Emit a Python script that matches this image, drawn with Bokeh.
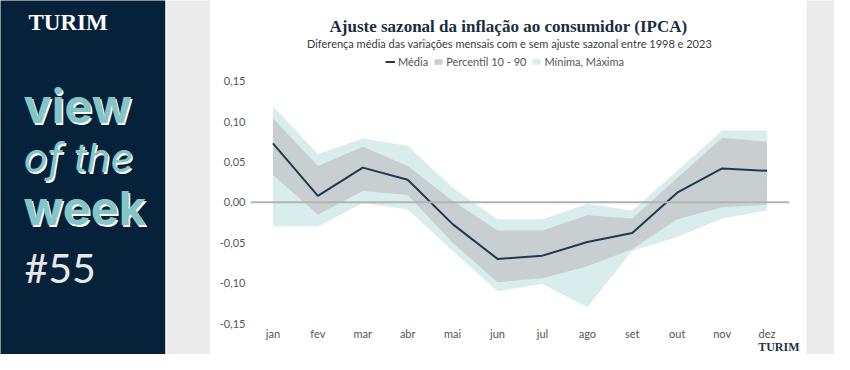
from bokeh.plotting import figure
from bokeh.layouts import row, column
from bokeh.models import (FactorRange, Range1d, FixedTicker, CustomJSTickFormatter, Span,
                          Legend, LegendItem, Label, Title)
from bokeh.embed import file_html
from bokeh.resources import INLINE

# ---------------- data ----------------
months = ["jan", "fev", "mar", "abr", "mai", "jun", "jul", "ago", "set", "out", "nov", "dez"]
media = [0.073, 0.008, 0.043, 0.028, -0.027, -0.070, -0.066, -0.049, -0.038, 0.012, 0.042, 0.039]
p90 = [0.104, 0.045, 0.069, 0.045, 0.002, -0.035, -0.035, -0.016, -0.020, 0.030, 0.080, 0.075]
p10 = [0.034, -0.015, 0.014, 0.009, -0.050, -0.099, -0.094, -0.079, -0.058, -0.021, -0.006, -0.003]
maximo = [0.119, 0.060, 0.079, 0.070, 0.018, -0.021, -0.021, -0.002, -0.010, 0.039, 0.089, 0.089]
minimo = [-0.030, -0.030, -0.001, -0.009, -0.060, -0.110, -0.101, -0.130, -0.060, -0.043, -0.020, -0.010]
y_ticks = [-0.15, -0.10, -0.05, 0.0, 0.05, 0.10, 0.15]

title_text = "Ajuste sazonal da inflação ao consumidor (IPCA)"
subtitle_text = "Diferença média das variações mensais com e sem ajuste sazonal entre 1998 e 2023"
legend_labels = ["Média", "Percentil 10 - 90", "Mínima, Máxima"]
brand = "TURIM"
panel_words = ["view", "of the", "week"]
issue = "#55"

H = 354
NAVY = "#06223a"
GRAY = "#ebebeb"
TEAL = "#86c5c6"
LINE = "#1f3a4d"
BAND_DARK = "#c8cfd1"
BAND_LIGHT = "#d9eded"


def blank(w, h, color):
    s = figure(width=w, height=h, toolbar_location=None, output_backend="svg", min_border=0,
               x_axis_location=None, y_axis_location=None, frame_align=False,
               x_range=Range1d(0, w), y_range=Range1d(h, 0))
    s.grid.visible = False
    s.outline_line_color = None
    s.background_fill_color = color
    s.border_fill_color = color
    return s


# ---------------- left panel ----------------
panel = blank(165, H, NAVY)
panel.add_layout(Label(x=28, y=22, text=brand, text_font="Liberation Serif",
                       text_font_style="bold", text_font_size="23px", text_color="white",
                       text_baseline="alphabetic"))
word_base = [105, 157, 207]
word_style = ["bold", "italic", "bold"]
word_size = ["47px", "40px", "47px"]
for w, yb, st, fs in zip(panel_words, word_base, word_style, word_size):
    panel.add_layout(Label(x=24.5, y=yb + 1.5, text=w, text_font="Inter", text_font_style=st,
                           text_font_size=fs, text_color="white", text_baseline="alphabetic"))
    panel.add_layout(Label(x=23, y=yb, text=w, text_font="Inter", text_font_style=st,
                           text_font_size=fs, text_color=TEAL, text_baseline="alphabetic"))
panel.add_layout(Label(x=24, y=267, text=issue, text_font="Lato", text_font_size="41px",
                       text_color="#e8e8e8", text_baseline="alphabetic"))

# ---------------- chart ----------------
p = figure(width=596, height=348, x_range=FactorRange(factors=months),
           y_range=Range1d(-0.15, 0.2425),
           toolbar_location=None, output_backend="svg", frame_align=False,
           min_border_left=40, min_border_right=17, min_border_top=0, min_border_bottom=31)
p.background_fill_color = "white"
p.border_fill_color = "white"
p.outline_line_color = None
p.grid.visible = False

r_light = p.varea(x=months, y1=minimo, y2=maximo, fill_color=BAND_LIGHT)
r_dark = p.varea(x=months, y1=p10, y2=p90, fill_color=BAND_DARK)
p.add_layout(Span(location=0, dimension="width", line_color="#b3b3b3", line_width=2))
r_line = p.line(x=months, y=media, line_color=LINE, line_width=2)

for ax in (p.xaxis[0], p.yaxis[0]):
    ax.axis_line_color = None
    ax.major_tick_line_color = None
    ax.minor_tick_line_color = None
    ax.major_tick_out = 0
    ax.major_tick_in = 0
    ax.minor_tick_out = 0
    ax.major_label_text_font = "Lato"
    ax.major_label_text_font_size = "11px"
    ax.major_label_text_color = "#555555"
p.yaxis.ticker = FixedTicker(ticks=y_ticks)
p.yaxis.formatter = CustomJSTickFormatter(code="return tick.toFixed(2).replace('.', ',');")
p.yaxis.major_label_standoff = 5
p.xaxis.major_label_standoff = 3

p.add_layout(Label(x=258, y=297, x_units="screen", y_units="screen", text=title_text,
                   text_align="center", text_baseline="alphabetic", text_font="Liberation Serif",
                   text_font_style="bold", text_font_size="17px", text_color="#1a2d3f"))
p.add_layout(Label(x=259, y=280, x_units="screen", y_units="screen", text=subtitle_text,
                   text_align="center", text_baseline="alphabetic", text_font="Lato",
                   text_font_size="11px", text_color="#3a3a3a"))

legend = Legend(items=[LegendItem(label=legend_labels[0], renderers=[r_line]),
                       LegendItem(label=legend_labels[1], renderers=[r_dark]),
                       LegendItem(label=legend_labels[2], renderers=[r_light])],
                location=(135, 255), orientation="horizontal",
                label_text_font="Lato", label_text_font_size="11px", label_text_color="#555555",
                glyph_width=10, glyph_height=7, label_height=12, label_standoff=3,
                spacing=5, padding=0, margin=0, border_line_color=None,
                background_fill_alpha=0)
p.add_layout(legend)

p.add_layout(Title(text=brand, align="right", offset=-10, standoff=-9,
                   text_font="Liberation Serif", text_font_style="bold",
                   text_font_size="12px", text_color="#1b3446"), "below")

chart_col = column(blank(596, 6, GRAY), p)
layout = row(panel, blank(1, H, "#7d8c99"), blank(44, H, GRAY), chart_col, blank(28, H, GRAY))
open("out.html", "w").write(file_html(layout, INLINE))
